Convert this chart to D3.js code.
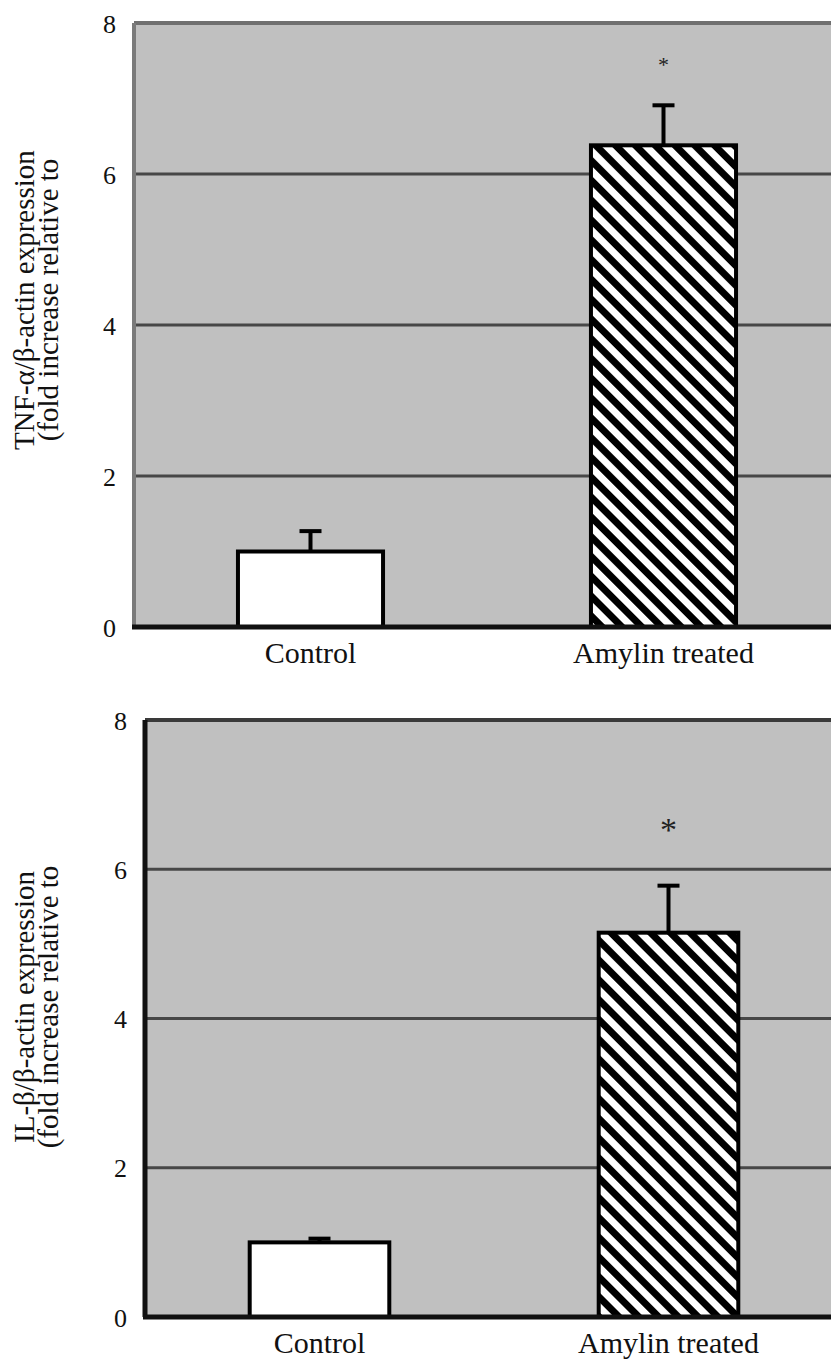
<!DOCTYPE html>
<html>
<head>
<meta charset="utf-8">
<script src="https://cdn.jsdelivr.net/npm/d3@7"></script>
<style>
  body { margin: 0; background: #fff; }
</style>
</head>
<body>
<div id="chart"></div>
<script>
// data
const categories = ["Control", "Amylin treated"];
const yTicks = [0, 2, 4, 6, 8];

const tnfMeans = [1.0, 6.38];
const tnfErrors = [0.27, 0.53];
const tnfStars = [null, 7.55]; // level of the significance mark

const ilMeans = [1.0, 5.15];
const ilErrors = [0.05, 0.63];
const ilStars = [null, 6.7];

const tnfLabel = ["TNF-\u03b1/\u03b2-actin expression", "(fold increase relative to"];
const ilLabel = ["IL-\u03b2/\u03b2-actin expression", "(fold increase relative to"];

const serif = "Liberation Serif";
const width = 831, height = 1360;

const svg = d3.select("#chart").append("svg")
  .attr("width", width)
  .attr("height", height);

// hatch pattern for the treated bars
const defs = svg.append("defs");
defs.append("pattern")
  .attr("id", "hatch")
  .attr("patternUnits", "userSpaceOnUse")
  .attr("width", 14).attr("height", 14)
  .attr("patternTransform", "rotate(45)")
  .call(p => {
    p.append("rect").attr("width", 14).attr("height", 14).attr("fill", "#fff");
    p.append("rect").attr("width", 14).attr("height", 7).attr("fill", "#000");
  });

function drawPanel(opts) {
  const {left, top, bottom, right, pad, means, errors, stars, label, labelMid, starSize, axisBlack} = opts;

  const x = d3.scaleBand()
    .domain(categories)
    .range([left, right])
    .paddingInner(pad)
    .paddingOuter(pad / 2);

  const y = d3.scaleLinear()
    .domain([0, 8])
    .range([bottom, top]);

  const g = svg.append("g");

  // plot background
  g.append("rect")
    .attr("x", left).attr("y", y(8))
    .attr("width", right - left).attr("height", y(0) - y(8))
    .attr("fill", "#c0c0c0");

  // grid lines
  g.selectAll("line.grid")
    .data(yTicks.filter(d => d > 0 && d < 8))
    .enter().append("line")
      .attr("class", "grid")
      .attr("x1", left).attr("x2", right)
      .attr("y1", d => y(d)).attr("y2", d => y(d))
      .attr("stroke", "#474747")
      .attr("stroke-width", 3);

  // frame top + left
  g.append("line")
    .attr("x1", left).attr("x2", right)
    .attr("y1", y(8)).attr("y2", y(8))
    .attr("stroke", axisBlack ? "#3a3a3a" : "#707070")
    .attr("stroke-width", 4);
  g.append("line")
    .attr("x1", left).attr("x2", left)
    .attr("y1", y(8)).attr("y2", y(0))
    .attr("stroke", axisBlack ? "#111" : "#7a7a7a")
    .attr("stroke-width", axisBlack ? 5 : 4);

  // tick labels through the axis generator
  const axis = d3.axisLeft(y).tickValues(yTicks).tickSize(0).tickPadding(18).tickFormat(d3.format("d"));
  const ax = g.append("g")
    .attr("transform", `translate(${left},0)`)
    .call(axis);
  ax.select(".domain").remove();
  ax.selectAll("text")
    .style("font-family", serif)
    .style("font-size", "26px")
    .attr("fill", "#111")
    .attr("dy", "0.35em");

  // bars
  g.selectAll("rect.bar")
    .data(means)
    .enter().append("rect")
      .attr("class", "bar")
      .attr("x", (d, i) => x(categories[i]))
      .attr("y", d => y(d))
      .attr("width", x.bandwidth())
      .attr("height", d => y(0) - y(d))
      .attr("fill", (d, i) => i === 0 ? "#fff" : "url(#hatch)")
      .attr("stroke", "#000")
      .attr("stroke-width", 4);

  // error bars
  const cx = i => x(categories[i]) + x.bandwidth() / 2;
  g.selectAll("line.err")
    .data(means)
    .enter().append("line")
      .attr("class", "err")
      .attr("x1", (d, i) => cx(i)).attr("x2", (d, i) => cx(i))
      .attr("y1", d => y(d)).attr("y2", (d, i) => y(d + errors[i]))
      .attr("stroke", "#000").attr("stroke-width", 4);
  g.selectAll("line.cap")
    .data(means)
    .enter().append("line")
      .attr("class", "cap")
      .attr("x1", (d, i) => cx(i) - 11).attr("x2", (d, i) => cx(i) + 11)
      .attr("y1", (d, i) => y(d + errors[i])).attr("y2", (d, i) => y(d + errors[i]))
      .attr("stroke", "#000").attr("stroke-width", 4);

  // x baseline
  g.append("line")
    .attr("x1", left - 2).attr("x2", right)
    .attr("y1", y(0)).attr("y2", y(0))
    .attr("stroke", "#111")
    .attr("stroke-width", 5);

  // significance marks
  stars.forEach((d, i) => {
    if (d === null) return;
    g.append("text")
      .attr("class", "star")
      .attr("x", cx(i))
      .attr("y", y(d))
      .attr("text-anchor", "middle")
      .attr("dy", "0.7em")
      .style("font-family", serif)
      .style("font-size", starSize + "px")
      .attr("fill", "#222")
      .text("*");
  });

  // category labels
  g.selectAll("text.cat")
    .data(categories)
    .enter().append("text")
      .attr("class", "cat")
      .attr("x", d => x(d) + x.bandwidth() / 2)
      .attr("y", y(0) + 36)
      .attr("text-anchor", "middle")
      .style("font-family", serif)
      .style("font-size", "30px")
      .attr("fill", "#111")
      .text(d => d);

  // y-axis title, two lines
  g.selectAll("text.ytitle")
    .data(label)
    .enter().append("text")
      .attr("class", "ytitle")
      .attr("transform", (d, i) => `translate(${34 + i * 24},${labelMid}) rotate(-90)`)
      .attr("text-anchor", "middle")
      .style("font-family", serif)
      .style("font-size", "29px")
      .attr("fill", "#111")
      .text(d => d);
}

drawPanel({
  left: 134, top: 23, bottom: 627, right: 840, pad: 0.589,
  means: tnfMeans, errors: tnfErrors, stars: tnfStars,
  label: tnfLabel, labelMid: 300, starSize: 22, axisBlack: false
});

drawPanel({
  left: 145, top: 720, bottom: 1317, right: 843, pad: 0.6,
  means: ilMeans, errors: ilErrors, stars: ilStars,
  label: ilLabel, labelMid: 1007, starSize: 34, axisBlack: true
});
</script>
</body>
</html>
